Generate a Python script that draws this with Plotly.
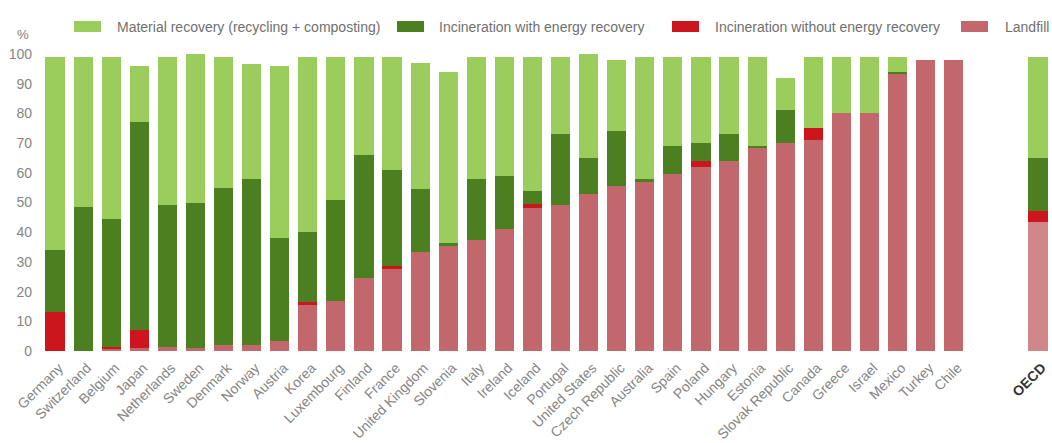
import plotly.graph_objects as go

countries = ["Germany", "Switzerland", "Belgium", "Japan", "Netherlands", "Sweden", "Denmark",
             "Norway", "Austria", "Korea", "Luxembourg", "Finland", "France", "United Kingdom",
             "Slovenia", "Italy", "Ireland", "Iceland", "Portugal", "United States",
             "Czech Republic", "Australia", "Spain", "Poland", "Hungary", "Estonia",
             "Slovak Republic", "Canada", "Greece", "Israel", "Mexico", "Turkey", "Chile", "OECD"]

landfill = [0, 0, 1, 1, 1.5, 1, 2, 2, 3.5, 15.5, 17, 24.5, 27.5, 33.5, 35.5, 37.5, 41, 48, 49,
            53, 55.5, 57, 59.5, 62, 64, 68.5, 70, 71, 80, 80, 93.5, 98, 98, 43.5]
incin_without = [13, 0, 0.5, 6, 0, 0, 0, 0, 0, 1, 0, 0, 1, 0, 0, 0, 0, 1.5, 0,
                 0, 0, 0, 0, 2, 0, 0, 0, 4, 0, 0, 0, 0, 0, 3.5]
incin_with = [21, 48.5, 43, 70, 47.5, 49, 53, 56, 34.5, 23.5, 34, 41.5, 32.5, 21, 1, 20.5, 18,
              4.5, 24, 12, 18.5, 1, 9.5, 6, 9, 0.5, 11, 0, 0, 0, 0.5, 0, 0, 18]
material = [65, 50.5, 54.5, 19, 50, 50, 44, 38.5, 58, 59, 48, 33, 38, 42.5, 57.5, 41, 40, 45, 26,
            35, 24, 41, 30, 29, 26, 30, 11, 24, 19, 19, 5, 0, 0, 34]

series_names = ["Material recovery (recycling + composting)", "Incineration with energy recovery",
                "Incineration without energy recovery", "Landfill"]
y_ticks = [0, 10, 20, 30, 40, 50, 60, 70, 80, 90, 100]

C_LIGHT = "#9BCD5C"
C_DARK = "#4B7F20"
C_RED = "#CC151D"
C_LAND = "#C2676B"
C_LAND_OECD = "#D0878A"

spacers = [" ", "  "]
cat_order = countries[:-1] + spacers + [countries[-1]]
tick_text = countries[:-1] + spacers + ["<b><span style='color:#333333'>OECD</span></b>"]

land_colors = [C_LAND_OECD if c == "OECD" else C_LAND for c in countries]

fig = go.Figure()
fig.add_bar(x=countries, y=landfill, name=series_names[3], marker=dict(color=land_colors, line_width=0))
fig.add_bar(x=countries, y=incin_without, name=series_names[2], marker=dict(color=C_RED, line_width=0))
fig.add_bar(x=countries, y=incin_with, name=series_names[1], marker=dict(color=C_DARK, line_width=0))
fig.add_bar(x=countries, y=material, name=series_names[0], marker=dict(color=C_LIGHT, line_width=0))

W, H = 1052, 443
L, R, T, B = 41, 0, 54, 92

def px2x(px):
    return (px - L) / (W - L - R)

def px2y(py):
    return (H - B - py) / (H - T - B)

shapes = []
annotations = []
legend_items = [(series_names[0], C_LIGHT, 74, 115), (series_names[1], C_DARK, 397, 437),
                (series_names[2], C_RED, 672, 713), (series_names[3], C_LAND, 961, 1003)]
for name, col, sx, tx in legend_items:
    shapes.append(dict(type="rect", xref="paper", yref="paper", x0=px2x(sx), x1=px2x(sx + 27),
                       y0=px2y(32), y1=px2y(21), fillcolor=col, line=dict(width=0), layer="above"))
    annotations.append(dict(text=name, xref="paper", yref="paper", x=px2x(tx), y=px2y(27),
                            xanchor="left", yanchor="middle", showarrow=False,
                            font=dict(size=14, color="#707070")))
annotations.append(dict(text="%", xref="paper", yref="paper", x=0, y=1, xanchor="right",
                        yanchor="bottom", xshift=-10, yshift=10, showarrow=False,
                        font=dict(size=13, color="#808080")))

fig.update_layout(
    barmode="stack",
    bargap=0.32,
    width=W, height=H,
    margin=dict(l=L, r=R, t=T, b=B, pad=0),
    plot_bgcolor="white", paper_bgcolor="white",
    showlegend=False,
    font=dict(family="Liberation Sans, Arial, sans-serif", size=14, color="#808080"),
    shapes=shapes,
    annotations=annotations,
    xaxis=dict(type="category", categoryorder="array", categoryarray=cat_order,
               tickmode="array", tickvals=cat_order, ticktext=tick_text,
               tickangle=-45, showgrid=False, showline=False, zeroline=False, ticks="",
               ticklabelstandoff=5, ticklabelshift=4,
               tickfont=dict(size=14, color="#858585"), range=[-0.5, len(cat_order) - 0.5]),
    yaxis=dict(range=[0, 100], tickvals=y_ticks, showgrid=False, showline=False, zeroline=False,
               ticks="", ticklabelstandoff=8, tickfont=dict(size=14, color="#858585")),
)

fig.write_html("out.html")
